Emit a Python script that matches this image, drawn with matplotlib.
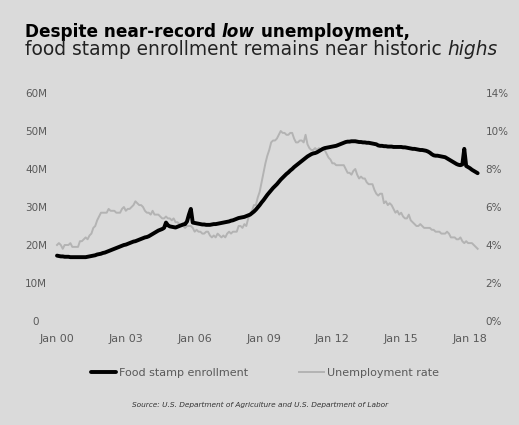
import numpy as np
import matplotlib
matplotlib.use("Agg")
import matplotlib.pyplot as plt

# ---------------- data ----------------
start_year = 2000
food_stamps_m = [
    # 2000
    17.2, 17.1, 17.0, 17.0, 16.9, 16.9, 16.9, 16.8, 16.8, 16.8, 16.8, 16.8,
    # 2001
    16.8, 16.8, 16.8, 16.8, 16.9, 17.0, 17.1, 17.2, 17.3, 17.5, 17.6, 17.7,
    # 2002
    17.9, 18.0, 18.2, 18.4, 18.6, 18.8, 19.0, 19.2, 19.4, 19.6, 19.8, 20.0,
    # 2003
    20.1, 20.3, 20.5, 20.7, 20.9, 21.0, 21.2, 21.4, 21.6, 21.8, 22.0, 22.1,
    # 2004
    22.3, 22.6, 22.9, 23.2, 23.5, 23.8, 24.0, 24.2, 24.5, 25.9, 25.2, 24.9,
    # 2005
    24.8, 24.7, 24.6, 24.8, 25.0, 25.2, 25.4, 25.5, 26.2, 28.0, 29.5, 25.9,
    # 2006
    25.8, 25.7, 25.6, 25.5, 25.4, 25.4, 25.3, 25.3, 25.3, 25.4, 25.5, 25.5,
    # 2007
    25.6, 25.7, 25.8, 25.9, 26.0, 26.1, 26.2, 26.4, 26.5, 26.7, 26.9, 27.1,
    # 2008
    27.2, 27.3, 27.4, 27.6, 27.8, 28.0, 28.4, 28.8, 29.3, 29.9, 30.5, 31.2,
    # 2009
    31.8, 32.5, 33.2, 33.8, 34.4, 35.0, 35.5, 36.0, 36.6, 37.2, 37.7, 38.2,
    # 2010
    38.7, 39.1, 39.6, 40.0, 40.5, 40.9, 41.3, 41.7, 42.1, 42.5, 42.9, 43.3,
    # 2011
    43.6, 43.9, 44.1, 44.2, 44.4, 44.7, 45.0, 45.3, 45.5, 45.6, 45.7, 45.8,
    # 2012
    45.9, 46.0, 46.1, 46.3, 46.5, 46.7, 46.9, 47.1, 47.2, 47.2, 47.3, 47.3,
    # 2013
    47.3, 47.2, 47.1, 47.1, 47.0, 47.0, 46.9, 46.9, 46.8, 46.7, 46.6, 46.5,
    # 2014
    46.2, 46.1, 46.1, 46.0, 46.0, 45.9, 45.9, 45.9, 45.8, 45.8, 45.8, 45.8,
    # 2015
    45.8, 45.7, 45.7, 45.6, 45.5, 45.4, 45.3, 45.3, 45.2, 45.1, 45.0, 45.0,
    # 2016
    44.9, 44.8, 44.6, 44.3, 43.9, 43.6, 43.5, 43.5, 43.4, 43.3, 43.2, 43.1,
    # 2017
    42.8, 42.5, 42.2, 41.9, 41.6, 41.3, 41.1, 41.0, 41.2, 45.3, 40.8, 40.5,
    # 2018
    40.2, 39.8, 39.5, 39.2, 38.9,
]
unemployment_pct = [
    # 2000
    4.0, 4.1, 4.0, 3.8, 4.0, 4.0, 4.0, 4.1, 3.9, 3.9, 3.9, 3.9,
    # 2001
    4.2, 4.2, 4.3, 4.4, 4.3, 4.5, 4.6, 4.9, 5.0, 5.3, 5.5, 5.7,
    # 2002
    5.7, 5.7, 5.7, 5.9, 5.8, 5.8, 5.8, 5.7, 5.7, 5.7, 5.9, 6.0,
    # 2003
    5.8, 5.9, 5.9, 6.0, 6.1, 6.3, 6.2, 6.1, 6.1, 6.0, 5.8, 5.7,
    # 2004
    5.7, 5.6, 5.8, 5.6, 5.6, 5.6, 5.5, 5.4, 5.4, 5.5, 5.4, 5.4,
    # 2005
    5.3, 5.4, 5.2, 5.2, 5.1, 5.0, 5.0, 4.9, 5.0, 5.0, 5.0, 4.9,
    # 2006
    4.7, 4.8, 4.7, 4.7, 4.6, 4.6, 4.7, 4.7, 4.5, 4.4, 4.5, 4.4,
    # 2007
    4.6, 4.5, 4.4, 4.5, 4.4, 4.6, 4.7, 4.6, 4.7, 4.7, 4.7, 5.0,
    # 2008
    5.0, 4.9, 5.1, 5.0, 5.4, 5.6, 5.8, 6.1, 6.1, 6.5, 6.8, 7.3,
    # 2009
    7.8, 8.3, 8.7, 9.0, 9.4, 9.5, 9.5, 9.6, 9.8, 10.0, 9.9, 9.9,
    # 2010
    9.8, 9.8, 9.9, 9.9, 9.6, 9.4, 9.4, 9.5, 9.5, 9.4, 9.8, 9.3,
    # 2011
    9.1, 9.0, 9.0, 9.1, 9.0, 9.1, 9.0, 9.0, 9.0, 8.8, 8.6, 8.5,
    # 2012
    8.3, 8.3, 8.2, 8.2, 8.2, 8.2, 8.2, 8.0, 7.8, 7.8, 7.7, 7.9,
    # 2013
    8.0, 7.7, 7.5, 7.6, 7.5, 7.5, 7.3, 7.2, 7.2, 7.2, 6.9, 6.7,
    # 2014
    6.6, 6.7, 6.7, 6.2, 6.3, 6.1, 6.2, 6.1, 5.9, 5.7, 5.8, 5.6,
    # 2015
    5.7, 5.5, 5.4, 5.4, 5.6, 5.3, 5.2, 5.1, 5.0, 5.0, 5.1, 5.0,
    # 2016
    4.9, 4.9, 4.9, 4.9, 4.8, 4.8, 4.7, 4.7, 4.7, 4.6, 4.6, 4.6,
    # 2017
    4.7, 4.6, 4.4, 4.4, 4.4, 4.3, 4.3, 4.4, 4.2, 4.1, 4.2, 4.1,
    # 2018
    4.1, 4.1, 4.0, 3.9, 3.8,
]
x_tick_years = [2000, 2003, 2006, 2009, 2012, 2015, 2018]
x_tick_labels = ["Jan 00", "Jan 03", "Jan 06", "Jan 09", "Jan 12", "Jan 15", "Jan 18"]
left_ticks = [0, 10, 20, 30, 40, 50, 60]
left_tick_labels = ["0", "10M", "20M", "30M", "40M", "50M", "60M"]
right_ticks = [0, 2, 4, 6, 8, 10, 12]
right_tick_labels = ["0%", "2%", "4%", "6%", "8%", "10%", "14%"]
series_names = ["Food stamp enrollment", "Unemployment rate"]
title_parts = ["Despite near-record ", "low", " unemployment,"]
subtitle_parts = ["food stamp enrollment remains near historic ", "highs"]
source_text = "Source: U.S. Department of Agriculture and U.S. Department of Labor"

# ---------------- styling ----------------
W, H = 519, 425
BG = "#dadada"
TXT = "#5a5a5a"
GREY_LINE = "#b3b3b3"
plt.rcParams["font.family"] = ["DejaVu Sans"]

fig = plt.figure(figsize=(W / 100, H / 100), dpi=100, facecolor=BG)

# axes placement in pixels
ax_l, ax_r = 50, 480
ax_b, ax_t = 321, 93
ax = fig.add_axes([ax_l / W, 1 - ax_b / H, (ax_r - ax_l) / W, (ax_b - ax_t) / H])
ax.set_facecolor("none")
ax2 = ax.twinx()

px_per_year = (470 - 57) / 18.0
ax.set_xlim(2000 - (57 - ax_l) / px_per_year, 2018 + (ax_r - 470) / px_per_year)
ax.set_ylim(0, 60)
ax2.set_ylim(0, 12)

xf = start_year + np.arange(len(food_stamps_m)) / 12.0
xu = start_year + np.arange(len(unemployment_pct)) / 12.0

lu, = ax2.plot(xu, unemployment_pct, color=GREY_LINE, lw=1.4, solid_joinstyle="round", zorder=1)
lf, = ax.plot(xf, food_stamps_m, color="black", lw=2.8, solid_joinstyle="round",
              solid_capstyle="round", zorder=3)
ax.set_zorder(2)

for a in (ax, ax2):
    for s in a.spines.values():
        s.set_visible(False)

ax.set_xticks(x_tick_years)
ax.set_xticklabels(x_tick_labels, fontsize=8, color=TXT)
ax.tick_params(axis="x", length=0, pad=9)

ax.set_yticks(left_ticks)
ax.set_yticklabels(left_tick_labels, fontsize=7.5, color=TXT, ha="center")
ax.tick_params(axis="y", length=0, pad=10)

ax2.set_yticks(right_ticks)
ax2.set_yticklabels(right_tick_labels, fontsize=7.5, color=TXT)
ax2.tick_params(axis="y", length=0, pad=4)

# title (chained text pieces)
TS = 12.2
t1 = fig.text(25 / W, 1 - 37 / H, title_parts[0], fontsize=TS, fontweight="bold",
              color="black", va="baseline", ha="left")
t2 = ax.annotate(title_parts[1], xy=(1, 0), xycoords=t1, va="bottom", ha="left",
                 fontsize=TS, fontweight="bold", fontstyle="italic", color="black",
                 annotation_clip=False)
t3 = ax.annotate(title_parts[2], xy=(1, 0), xycoords=t2, va="bottom", ha="left",
                 fontsize=TS, fontweight="bold", color="black", annotation_clip=False)

SS = 13.4
s1 = fig.text(25 / W, 1 - 55 / H, subtitle_parts[0], fontsize=SS, color="#222222",
              va="baseline", ha="left")
s2 = ax.annotate(subtitle_parts[1], xy=(1, 0), xycoords=s1, va="bottom", ha="left",
                 fontsize=SS, fontstyle="italic", color="#222222", annotation_clip=False)

leg = fig.legend([lf, lu], series_names, loc="center", ncol=2, frameon=False,
                 bbox_to_anchor=(265 / W, 1 - 373 / H), fontsize=8,
                 handlelength=2.3, handletextpad=0.3, columnspacing=4.5)
for t in leg.get_texts():
    t.set_color(TXT)

fig.text(260 / W, 1 - 405 / H, source_text, fontsize=5.3, fontstyle="italic",
         color="#333333", ha="center", va="center")

fig.savefig("out.png", dpi=100, facecolor=BG)
